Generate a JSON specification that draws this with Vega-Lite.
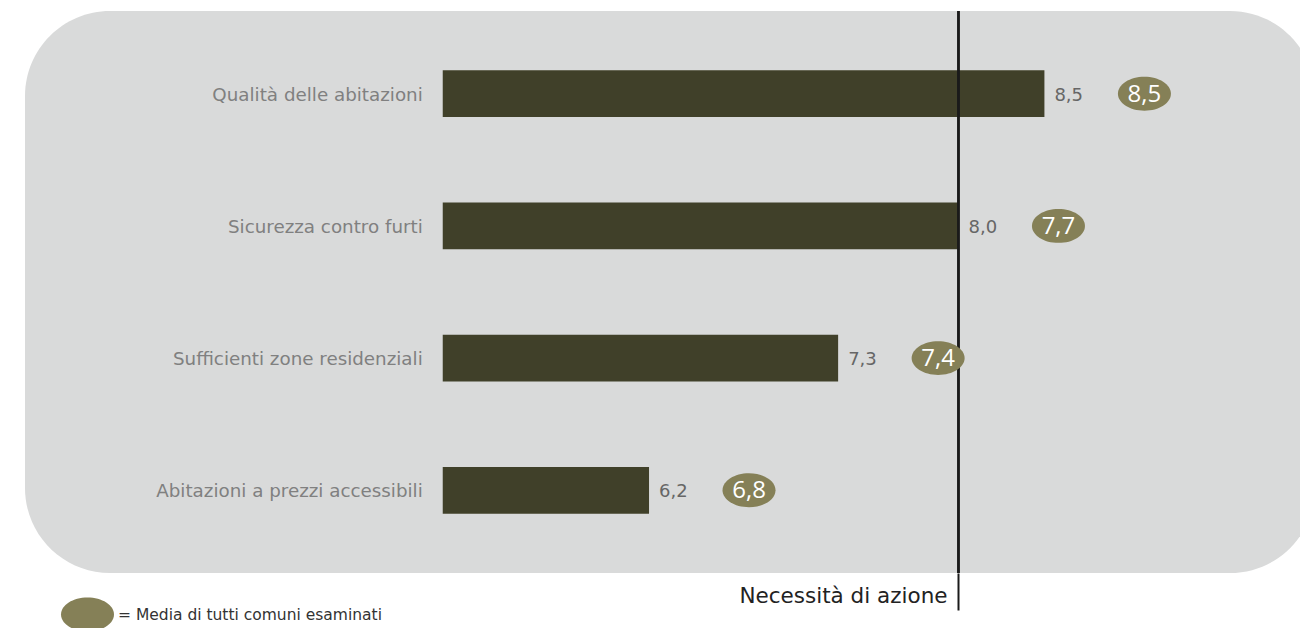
{
  "$schema": "https://vega.github.io/schema/vega-lite/v6.json",
  "width": 1290,
  "height": 562,
  "autosize": {"type": "none"},
  "padding": {"left": 25, "top": 11, "right": 0, "bottom": 55},
  "config": {
    "view": {"fill": "#d9dada", "stroke": null, "cornerRadius": 85},
    "font": "DejaVu Sans",
    "locale": {"number": {"decimal": ",", "thousands": ".", "grouping": [3], "currency": ["", " €"]}}
  },
  "data": {"values": [
    {"voce": "Qualità delle abitazioni", "valore": 8.5, "media": 8.5, "serie": "Media di tutti comuni esaminati"},
    {"voce": "Sicurezza contro furti", "valore": 8.0, "media": 7.7, "serie": "Media di tutti comuni esaminati"},
    {"voce": "Sufficienti zone residenziali", "valore": 7.3, "media": 7.4, "serie": "Media di tutti comuni esaminati"},
    {"voce": "Abitazioni a prezzi accessibili", "valore": 6.2, "media": 6.8, "serie": "Media di tutti comuni esaminati"}
  ]},
  "layer": [
    {
      "mark": {"type": "bar", "color": "#404029"},
      "encoding": {
        "y": {"field": "voce", "type": "nominal", "sort": null, "axis": null, "scale": {"paddingInner": 0.647, "paddingOuter": 0.449}},
        "x": {
          "field": "valore", "type": "quantitative",
          "scale": {"domain": [2.57, 10.074], "nice": false, "zero": false},
          "axis": {
            "values": [8], "labels": false, "domain": false, "grid": false,
            "ticks": true, "tickSize": 37, "tickColor": "#1a1a1a", "tickWidth": 2,
            "title": "Necessità di azione", "titleFontSize": 21.5, "titleFontWeight": "normal",
            "titleColor": "#222222", "titleAlign": "right", "titleBaseline": "alphabetic",
            "titleX": 922, "titleY": 29, "titleFont": "DejaVu Sans"
          }
        },
        "x2": {"datum": 5}
      }
    },
    {
      "mark": {"type": "rule", "color": "#1a1a1a", "strokeWidth": 2},
      "encoding": {"x": {"datum": 8}}
    },
    {
      "mark": {"type": "text", "align": "right", "baseline": "middle", "dx": -20, "dy": 2, "fontSize": 18.3, "color": "#808080"},
      "encoding": {
        "y": {"field": "voce", "type": "nominal", "sort": null},
        "x": {"datum": 5},
        "text": {"field": "voce"}
      }
    },
    {
      "mark": {"type": "text", "align": "left", "baseline": "middle", "dx": 10, "dy": 2, "fontSize": 18, "color": "#666666"},
      "encoding": {
        "y": {"field": "voce", "type": "nominal", "sort": null},
        "x": {"field": "valore", "type": "quantitative"},
        "text": {"field": "valore", "type": "quantitative", "format": ".1f"}
      }
    },
    {
      "mark": {"type": "point", "shape": "M -1 0 A 1 0.64 0 1 0 1 0 A 1 0.64 0 1 0 -1 0 Z", "size": 2809, "filled": true, "opacity": 1, "strokeWidth": 0, "xOffset": 100},
      "encoding": {
        "y": {"field": "voce", "type": "nominal", "sort": null},
        "x": {"field": "valore", "type": "quantitative"},
        "color": {
          "field": "serie", "type": "nominal",
          "scale": {"range": ["#858057"]},
          "legend": {
            "orient": "none", "legendX": 36, "legendY": 577, "title": null, "padding": 0,
            "symbolType": "M -1 0 A 1 0.64 0 1 0 1 0 A 1 0.64 0 1 0 -1 0 Z",
            "symbolSize": 2809, "symbolStrokeWidth": 0, "symbolOpacity": 1,
            "labelFontSize": 15.5, "labelColor": "#333333", "labelOffset": 4,
            "labelFont": "DejaVu Sans", "labelExpr": "'= ' + datum.label", "labelLimit": 500
          }
        }
      }
    },
    {
      "mark": {"type": "text", "align": "center", "baseline": "middle", "dx": 100, "dy": 1, "fontSize": 24, "font": "Open Sans", "color": "#ffffff"},
      "encoding": {
        "y": {"field": "voce", "type": "nominal", "sort": null},
        "x": {"field": "valore", "type": "quantitative"},
        "text": {"field": "media", "type": "quantitative", "format": ".1f"}
      }
    }
  ]
}
